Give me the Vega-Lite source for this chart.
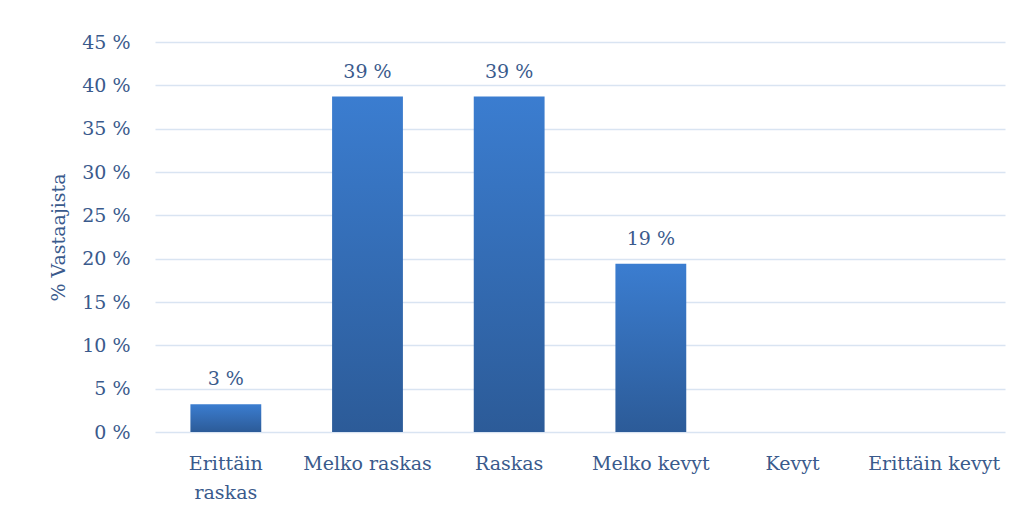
{
  "$schema": "https://vega.github.io/schema/vega-lite/v6.json",
  "autosize": {"type": "none"},
  "width": 850,
  "height": 390,
  "padding": {"left": 155, "top": 42, "right": 16, "bottom": 88},
  "background": "white",
  "config": {
    "view": {"stroke": null},
    "font": "DejaVu Serif"
  },
  "data": {
    "values": [
      {"kategoria": "Erittäin raskas", "osuus": 3.2},
      {"kategoria": "Melko raskas", "osuus": 38.7},
      {"kategoria": "Raskas", "osuus": 38.7},
      {"kategoria": "Melko kevyt", "osuus": 19.4},
      {"kategoria": "Kevyt", "osuus": 0},
      {"kategoria": "Erittäin kevyt", "osuus": 0}
    ]
  },
  "encoding": {
    "x": {
      "field": "kategoria",
      "type": "nominal",
      "sort": null,
      "scale": {"paddingInner": 0.5, "paddingOuter": 0.25},
      "axis": {
        "title": null,
        "labelAngle": 0,
        "labelFont": "DejaVu Serif",
        "labelFontSize": 19,
        "labelColor": "#3a5a8c",
        "labelPadding": 22,
        "labelLimit": 200,
        "labelLineHeight": 29,
        "labelExpr": "datum.label == 'Erittäin raskas' ? ['Erittäin', 'raskas'] : datum.label",
        "domain": false,
        "ticks": false,
        "grid": false
      }
    },
    "y": {
      "field": "osuus",
      "type": "quantitative",
      "scale": {"domain": [0, 45]},
      "axis": {
        "title": "% Vastaajista",
        "titleFont": "DejaVu Serif",
        "titleFontSize": 19,
        "titleFontWeight": "normal",
        "titleColor": "#3a5a8c",
        "titlePadding": 13,
        "values": [0, 5, 10, 15, 20, 25, 30, 35, 40, 45],
        "labelExpr": "datum.value + ' %'",
        "labelFont": "DejaVu Serif",
        "labelFontSize": 19,
        "labelColor": "#3a5a8c",
        "labelPadding": 25,
        "domain": false,
        "ticks": false,
        "grid": true,
        "gridColor": "#d9e4f2",
        "gridWidth": 1.5
      }
    }
  },
  "layer": [
    {
      "mark": {
        "type": "bar",
        "color": {
          "gradient": "linear",
          "x1": 0, "y1": 0, "x2": 0, "y2": 1,
          "stops": [
            {"offset": 0, "color": "#3b7dd0"},
            {"offset": 1, "color": "#2c5b98"}
          ]
        }
      }
    },
    {
      "transform": [
        {"filter": "datum.osuus > 0"},
        {"calculate": "round(datum.osuus) + ' %'", "as": "teksti"}
      ],
      "mark": {
        "type": "text",
        "baseline": "bottom",
        "dy": -15,
        "font": "DejaVu Serif",
        "fontSize": 19,
        "color": "#3a5a8c"
      },
      "encoding": {"text": {"field": "teksti"}}
    }
  ]
}
